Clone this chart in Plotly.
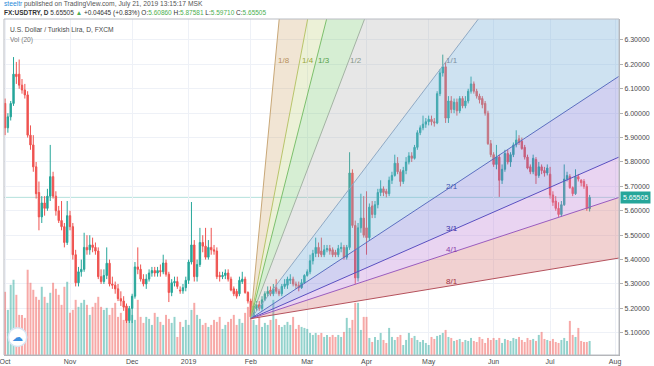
import numpy as np
import pandas as pd
import plotly.graph_objects as go

# ---------------- data ----------------
holidays = ["2018-12-25", "2019-01-01"]
dates = pd.bdate_range("2018-10-01", "2019-07-19")
dates = dates[~dates.isin(pd.to_datetime(holidays))]

opens = [
    6.04, 5.94, 5.985, 6.04, 6.16, 6.16, 6.115, 6.095, 6.075, 5.91,
    5.87, 5.78, 5.675, 5.575, 5.632, 5.61, 5.66, 5.74, 5.66, 5.60,
    5.56, 5.535, 5.47, 5.58, 5.535, 5.42, 5.305, 5.35, 5.36, 5.45,
    5.44, 5.46, 5.45, 5.435, 5.33, 5.31, 5.335, 5.385, 5.30, 5.295,
    5.28, 5.24, 5.23, 5.21, 5.15, 5.20, 5.25, 5.37, 5.36, 5.32,
    5.30, 5.32, 5.345, 5.355, 5.345, 5.355, 5.35, 5.386, 5.34, 5.265,
    5.305, 5.31, 5.275, 5.272, 5.285, 5.315, 5.39, 5.46, 5.33, 5.38,
    5.47, 5.455, 5.41, 5.45, 5.44, 5.435, 5.335, 5.33, 5.335, 5.345,
    5.32, 5.28, 5.27, 5.26, 5.31, 5.32, 5.265, 5.23, 5.165, 5.20,
    5.215, 5.20, 5.235, 5.26, 5.275, 5.26, 5.285, 5.27, 5.26, 5.29,
    5.295, 5.315, 5.32, 5.30, 5.295, 5.285, 5.305, 5.335, 5.35, 5.395,
    5.425, 5.45, 5.435, 5.42, 5.44, 5.445, 5.44, 5.43, 5.42, 5.445,
    5.45, 5.41, 5.45, 5.755, 5.54, 5.325, 5.53, 5.57, 5.53, 5.49,
    5.62, 5.585, 5.625, 5.675, 5.69, 5.68, 5.67, 5.725, 5.745, 5.795,
    5.76, 5.72, 5.765, 5.80, 5.825, 5.815, 5.86, 5.92, 5.94, 5.955,
    5.965, 5.975, 5.965, 5.96, 6.08, 6.165, 6.19, 5.98, 6.05, 6.015,
    6.045, 6.01, 6.06, 6.03, 6.05, 6.09, 6.12, 6.09, 6.07, 6.06,
    6.04, 6.00, 5.875, 5.83, 5.79, 5.82, 5.725, 5.77, 5.835, 5.80,
    5.83, 5.87, 5.895, 5.885, 5.86, 5.82, 5.78, 5.76, 5.81, 5.745,
    5.78, 5.765, 5.755, 5.75, 5.665, 5.64, 5.61, 5.585, 5.625, 5.73,
    5.74, 5.695, 5.67, 5.74, 5.725, 5.72, 5.70, 5.6086,
]
highs = [
    6.06, 6.00, 6.05, 6.23, 6.21, 6.22, 6.14, 6.12, 6.09, 5.95,
    5.91, 5.80, 5.72, 5.66, 5.66, 5.69, 5.87, 5.76, 5.68, 5.62,
    5.64, 5.55, 5.64, 5.60, 5.55, 5.44, 5.37, 5.40, 5.51, 5.50,
    5.50, 5.49, 5.47, 5.45, 5.36, 5.36, 5.45, 5.40, 5.33, 5.31,
    5.30, 5.27, 5.25, 5.22, 5.21, 5.26, 5.39, 5.45, 5.38, 5.34,
    5.34, 5.36, 5.37, 5.37, 5.37, 5.38, 5.42, 5.40, 5.35, 5.32,
    5.33, 5.33, 5.29, 5.30, 5.33, 5.40, 5.636, 5.48, 5.40, 5.53,
    5.50, 5.53, 5.48, 5.53, 5.46, 5.45, 5.35, 5.35, 5.36, 5.36,
    5.33, 5.29, 5.28, 5.33, 5.35, 5.33, 5.27, 5.24, 5.22, 5.23,
    5.23, 5.25, 5.27, 5.29, 5.29, 5.30, 5.32, 5.28, 5.30, 5.32,
    5.33, 5.34, 5.33, 5.31, 5.31, 5.32, 5.34, 5.36, 5.42, 5.44,
    5.49, 5.47, 5.49, 5.46, 5.46, 5.46, 5.45, 5.44, 5.46, 5.47,
    5.46, 5.46, 5.84, 5.77, 5.56, 5.55, 5.67, 5.66, 5.68, 5.63,
    5.64, 5.64, 5.69, 5.725, 5.70, 5.69, 5.74, 5.76, 5.83, 5.82,
    5.77, 5.78, 5.82, 5.84, 5.84, 5.87, 5.93, 5.95, 5.99, 5.98,
    5.99, 5.99, 5.98, 6.09, 6.18, 6.24, 6.21, 6.07, 6.07, 6.06,
    6.06, 6.07, 6.07, 6.07, 6.10, 6.15, 6.13, 6.10, 6.08, 6.07,
    6.05, 6.01, 5.89, 5.84, 5.87, 5.83, 5.79, 5.85, 5.85, 5.84,
    5.88, 5.93, 5.91, 5.90, 5.87, 5.83, 5.79, 5.83, 5.82, 5.80,
    5.79, 5.78, 5.79, 5.78, 5.68, 5.66, 5.635, 5.64, 5.79, 5.76,
    5.75, 5.70, 5.77, 5.75, 5.73, 5.73, 5.71, 5.665,
]
lows = [
    5.91, 5.92, 5.97, 6.03, 6.12, 6.10, 6.08, 6.06, 5.90, 5.85,
    5.76, 5.65, 5.52, 5.55, 5.58, 5.60, 5.64, 5.65, 5.58, 5.55,
    5.52, 5.45, 5.46, 5.52, 5.40, 5.29, 5.29, 5.33, 5.35, 5.42,
    5.42, 5.43, 5.42, 5.32, 5.30, 5.30, 5.32, 5.29, 5.28, 5.26,
    5.23, 5.21, 5.19, 5.14, 5.14, 5.14, 5.24, 5.34, 5.31, 5.29,
    5.28, 5.31, 5.33, 5.33, 5.33, 5.33, 5.34, 5.33, 5.226, 5.25,
    5.29, 5.28, 5.26, 5.26, 5.27, 5.30, 5.38, 5.31, 5.31, 5.37,
    5.43, 5.40, 5.40, 5.42, 5.42, 5.32, 5.31, 5.32, 5.32, 5.31,
    5.27, 5.25, 5.24, 5.25, 5.30, 5.26, 5.22, 5.158, 5.16, 5.19,
    5.19, 5.19, 5.23, 5.25, 5.25, 5.25, 5.26, 5.25, 5.25, 5.28,
    5.28, 5.30, 5.29, 5.28, 5.27, 5.28, 5.30, 5.33, 5.34, 5.38,
    5.41, 5.41, 5.41, 5.41, 5.43, 5.42, 5.41, 5.41, 5.41, 5.43,
    5.40, 5.40, 5.44, 5.53, 5.30, 5.31, 5.51, 5.49, 5.42, 5.48,
    5.57, 5.57, 5.61, 5.66, 5.66, 5.655, 5.66, 5.71, 5.74, 5.75,
    5.70, 5.71, 5.75, 5.79, 5.80, 5.81, 5.85, 5.91, 5.93, 5.94,
    5.95, 5.95, 5.945, 5.955, 6.07, 6.15, 5.96, 5.96, 6.00, 6.00,
    5.99, 6.00, 6.02, 6.02, 6.04, 6.08, 6.08, 6.06, 6.04, 6.02,
    5.99, 5.87, 5.82, 5.78, 5.77, 5.657, 5.71, 5.76, 5.79, 5.78,
    5.82, 5.86, 5.87, 5.85, 5.81, 5.77, 5.75, 5.75, 5.71, 5.735,
    5.75, 5.74, 5.745, 5.65, 5.62, 5.60, 5.575, 5.575, 5.62, 5.72,
    5.69, 5.66, 5.665, 5.72, 5.70, 5.69, 5.60, 5.5971,
]
closes = [
    5.94, 5.985, 6.04, 6.16, 6.15, 6.115, 6.095, 6.075, 5.91, 5.87,
    5.78, 5.67, 5.575, 5.632, 5.61, 5.66, 5.74, 5.66, 5.60, 5.56,
    5.535, 5.47, 5.58, 5.535, 5.42, 5.305, 5.35, 5.36, 5.45, 5.44,
    5.46, 5.45, 5.435, 5.33, 5.31, 5.335, 5.385, 5.30, 5.295, 5.28,
    5.24, 5.23, 5.205, 5.15, 5.20, 5.25, 5.37, 5.36, 5.32, 5.30,
    5.32, 5.345, 5.355, 5.345, 5.355, 5.35, 5.386, 5.34, 5.265, 5.305,
    5.31, 5.29, 5.272, 5.285, 5.315, 5.39, 5.46, 5.33, 5.38, 5.47,
    5.455, 5.41, 5.45, 5.44, 5.435, 5.33, 5.33, 5.335, 5.345, 5.32,
    5.275, 5.26, 5.25, 5.315, 5.32, 5.265, 5.23, 5.165, 5.21, 5.215,
    5.20, 5.235, 5.26, 5.27, 5.26, 5.28, 5.27, 5.26, 5.29, 5.30,
    5.32, 5.32, 5.30, 5.295, 5.285, 5.305, 5.335, 5.35, 5.395, 5.425,
    5.45, 5.425, 5.42, 5.44, 5.445, 5.435, 5.42, 5.42, 5.445, 5.45,
    5.41, 5.45, 5.755, 5.54, 5.325, 5.53, 5.57, 5.50, 5.49, 5.615,
    5.585, 5.625, 5.675, 5.69, 5.675, 5.67, 5.725, 5.745, 5.795, 5.76,
    5.72, 5.765, 5.80, 5.825, 5.815, 5.86, 5.92, 5.94, 5.955, 5.965,
    5.975, 5.965, 5.96, 6.08, 6.165, 6.19, 5.98, 6.05, 6.015, 6.045,
    6.01, 6.06, 6.03, 6.05, 6.09, 6.12, 6.09, 6.07, 6.055, 6.035,
    6.00, 5.875, 5.83, 5.79, 5.82, 5.725, 5.77, 5.835, 5.80, 5.83,
    5.87, 5.89, 5.88, 5.855, 5.82, 5.775, 5.76, 5.815, 5.745, 5.78,
    5.765, 5.755, 5.775, 5.665, 5.635, 5.61, 5.585, 5.625, 5.73, 5.745,
    5.695, 5.67, 5.74, 5.73, 5.715, 5.70, 5.61, 5.65505,
]
volumes = [
    63, 45, 70, 75, 60, 40, 40, 37, 85, 72, 65, 58, 55, 68, 58, 52, 62, 72, 66, 60, 50, 68, 73,
    42, 45, 55, 48, 52, 55, 50, 40, 48, 52, 58, 48, 45, 47, 40, 47, 52, 38, 42, 35, 48, 45,
    40, 35, 55, 38, 32, 38, 36, 30, 42, 38, 33, 30, 40, 36, 32, 38, 18, 33, 28, 35,
    30, 45, 52, 40, 36, 30, 32, 28, 30, 35, 33, 38, 26, 30, 33, 36, 40, 30, 36, 32, 42, 48,
    45, 35, 30, 38, 28, 32, 30, 35, 55, 36, 30, 28, 30, 33, 30, 38, 26, 30, 28, 27,
    26, 22, 20, 22, 20, 22, 18, 20, 18, 20, 18, 20, 18, 23, 37, 27, 35, 52, 52, 25, 38,
    38, 17, 13, 18, 15, 22, 15, 12, 27, 18, 15, 18, 20, 10, 15, 22, 17, 19, 15, 13, 15, 12,
    10, 18, 16, 19, 20, 22, 25, 18, 17, 14, 15, 16, 13, 15, 14, 17, 14, 13, 18, 16, 12, 17, 15,
    17, 15, 17, 12, 16, 15, 14, 17, 16, 18, 15, 13, 17, 15, 16, 14, 20, 23, 16, 15,
    14, 16, 13, 12, 15, 17, 14, 34, 20, 18, 27, 14, 13, 13, 14,
]

month_ticks = ["2018-10-01", "2018-11-01", "2018-12-03", "2019-01-02", "2019-02-01",
               "2019-03-01", "2019-04-01", "2019-05-01", "2019-06-03", "2019-07-01",
               "2019-08-01"]
month_labels = ["Oct", "Nov", "Dec", "2019", "Feb", "Mar", "Apr", "May", "Jun", "Jul", "Aug"]
price_ticks = [5.1, 5.2, 5.3, 5.4, 5.5, 5.6, 5.7, 5.8, 5.9, 6.0, 6.1, 6.2, 6.3]

last_price = 5.65505

# Gann fan anchors
fan_origin_date = "2019-02-01"
fan_origin_price = 5.158
fan_anchor_date = "2019-05-08"
fan_anchor_price = 6.194
fan_labels = ["1/8", "1/4", "1/3", "1/2", "1/1", "2/1", "3/1", "4/1", "8/1"]
fan_mults = [8, 4, 3, 2, 1, 1 / 2, 1 / 3, 1 / 4, 1 / 8]

X_START = "2018-09-28 15:00"
X_END = "2019-08-02 09:36"

# ---------------- styles ----------------
UP = "#26a69a"
DN = "#ef5350"
FONT = "Liberation Sans, Arial, sans-serif"
line_colors = ["#c9a878", "#b8c46a", "#7cc06c", "#a3b3a3", "#8fa9c4",
               "#5b6fc0", "#5a4fc0", "#9a5cbf", "#b5515c"]
label_colors = ["#b8905a", "#9aa83a", "#55a048", "#889888", "#7f8f9f",
                "#3f55b0", "#4030a8", "#8a3aa8", "#a03040"]
fill_colors = ["rgba(205,160,100,0.28)", "rgba(185,205,110,0.28)", "rgba(120,200,110,0.30)",
               "rgba(170,170,170,0.28)", "rgba(120,175,215,0.36)", "rgba(120,120,215,0.34)",
               "rgba(190,130,215,0.34)", "rgba(215,120,120,0.34)"]

# ---------------- fan geometry ----------------
idx_o = dates.get_loc(pd.Timestamp(fan_origin_date))
idx_a = dates.get_loc(pd.Timestamp(fan_anchor_date))
nb = idx_a - idx_o
unit = (fan_anchor_price - fan_origin_price) / nb
# end of the fan lines: just inside the right edge of the visible range
far_date = pd.Timestamp("2019-08-02 09:00")
n_far = np.busday_count(fan_origin_date, "2019-08-02") + 9 / 24
ends = [fan_origin_price + m * unit * n_far for m in fan_mults]


def idx_to_x(f):
    k = int(np.floor(f))
    return dates[k] + pd.Timedelta(days=float(f - k))


fig = go.Figure()

# volume (underneath, main y axis)
vol_colors = ["rgba(38,166,154,0.5)" if c >= o else "rgba(239,83,80,0.5)"
              for o, c in zip(opens, closes)]
fig.add_trace(go.Bar(x=dates, y=volumes, marker=dict(color=vol_colors, line=dict(width=0)),
                     yaxis="y", hoverinfo="skip"))

o_ts = pd.Timestamp(fan_origin_date)
# fan fills
for j in range(len(fan_mults) - 1):
    fig.add_trace(go.Scatter(
        x=[o_ts, far_date, far_date, o_ts],
        y=[fan_origin_price, ends[j], ends[j + 1], fan_origin_price],
        fill="toself", fillcolor=fill_colors[j], mode="lines", line=dict(width=0),
        yaxis="y2", hoverinfo="skip"))
# fan lines
for j in range(len(fan_mults)):
    fig.add_trace(go.Scatter(
        x=[o_ts, far_date], y=[fan_origin_price, ends[j]],
        mode="lines", line=dict(color=line_colors[j], width=1), yaxis="y2", hoverinfo="skip"))

# candles
fig.add_trace(go.Candlestick(
    x=dates, open=opens, high=highs, low=lows, close=closes,
    increasing=dict(line=dict(color=UP, width=1), fillcolor=UP),
    decreasing=dict(line=dict(color=DN, width=1), fillcolor=DN),
    whiskerwidth=0, yaxis="y2", hoverinfo="skip"))

annotations = []
# fan labels
for j, (lab, m) in enumerate(zip(fan_labels, fan_mults)):
    if m >= 1:
        xx = idx_to_x(idx_o + nb / m)
        yy = fan_anchor_price
    else:
        xx = dates[idx_a]
        yy = fan_origin_price + m * unit * nb
    annotations.append(dict(x=xx, y=yy, xref="x", yref="y2", text=lab, showarrow=False,
                            xanchor="left", yanchor="bottom", xshift=1, yshift=-1,
                            font=dict(size=8, color=label_colors[j], family=FONT)))

# header text
annotations.append(dict(
    x=-0.004, y=1.044, xref="paper", yref="paper", xanchor="left", yanchor="middle",
    showarrow=False, align="left",
    text="<span style='color:#2a8ad8'>steeltr</span> published on TradingView.com, July 21, 2019 13:15:17 MSK",
    font=dict(size=6.7, color="#555555", family=FONT)))
G = "#4caf50"
annotations.append(dict(
    x=-0.004, y=1.017, xref="paper", yref="paper", xanchor="left", yanchor="middle",
    showarrow=False, align="left",
    text=("<b>FX:USDTRY, D</b> 5.65505 <span style='color:%s'>▲</span> +0.04645 (+0.83%%) "
          "O:<span style='color:%s'>5.60860</span> H:<span style='color:%s'>5.87581</span> "
          "L:<span style='color:%s'>5.59710</span> C:<span style='color:%s'>5.65505</span>") % (G, G, G, G, G),
    font=dict(size=6.5, color="#333333", family=FONT)))
annotations.append(dict(
    x=0.007, y=0.970, xref="paper", yref="paper", xanchor="left", yanchor="middle",
    showarrow=False, text="U.S. Dollar / Turkish Lira, D, FXCM",
    font=dict(size=6.7, color="#4a4a4a", family=FONT)))
annotations.append(dict(
    x=0.007, y=0.938, xref="paper", yref="paper", xanchor="left", yanchor="middle",
    showarrow=False, text="Vol (20)",
    font=dict(size=6.7, color="#777777", family=FONT)))
# last price tag
annotations.append(dict(
    x=1, y=last_price, xref="paper", yref="y2", xanchor="left", yanchor="middle",
    showarrow=False, text="5.65505", bgcolor=UP, borderpad=2, xshift=1,
    font=dict(size=7, color="white", family=FONT)))
# logo glyph
annotations.append(dict(
    x=0.022, y=0.053, xref="paper", yref="paper", xanchor="center", yanchor="middle",
    showarrow=False, text="☁", font=dict(size=11, color="#3d8fe0", family="DejaVu Sans")))

shapes = [
    dict(type="line", xref="paper", x0=0, x1=1, yref="y2", y0=last_price, y1=last_price,
         line=dict(color="rgba(38,166,154,0.35)", width=1), layer="below"),
    dict(type="rect", xref="paper", yref="paper", x0=0, x1=1, y0=0, y1=1,
         line=dict(color="#b9bcc3", width=1)),
    dict(type="circle", xref="paper", yref="paper", x0=0.007, x1=0.037, y0=0.025, y1=0.081,
         fillcolor="white", line=dict(color="#d6e6f5", width=1.5)),
]

fig.update_layout(
    width=654, height=366,
    margin=dict(l=4, r=35, t=19, b=11, pad=0),
    paper_bgcolor="white", plot_bgcolor="white",
    showlegend=False, bargap=0.3, hovermode=False,
    font=dict(family=FONT, size=7, color="#4a4a4a"),
    xaxis=dict(
        type="date",
        range=[X_START, X_END],
        rangebreaks=[dict(bounds=["sat", "mon"]), dict(values=holidays)],
        rangeslider=dict(visible=False),
        tickmode="array", tickvals=month_ticks, ticktext=month_labels,
        tickfont=dict(size=7, color="#4a4a4a"), ticks="", ticklabeloverflow="allow",
        showgrid=True, gridcolor="#eef1f7", gridwidth=1,
        showline=True, linecolor="#b0b0b0", zeroline=False, automargin=False,
        fixedrange=True),
    yaxis=dict(range=[0, 335], visible=False, fixedrange=True, showgrid=False),
    yaxis2=dict(
        overlaying="y", side="right", range=[5.009, 6.386],
        tickmode="array", tickvals=price_ticks, tickformat=".5f",
        tickfont=dict(size=7, color="#4a4a4a"), ticks="outside", ticklen=3,
        tickcolor="#b0b0b0", showgrid=True, gridcolor="#eef1f7", gridwidth=1,
        showline=True, linecolor="#b0b0b0", zeroline=False, automargin=False,
        fixedrange=True),
    annotations=annotations,
    shapes=shapes,
)

fig.write_html("out.html", config={"displayModeBar": False, "staticPlot": True},
               post_script="document.body.style.margin='0';")
